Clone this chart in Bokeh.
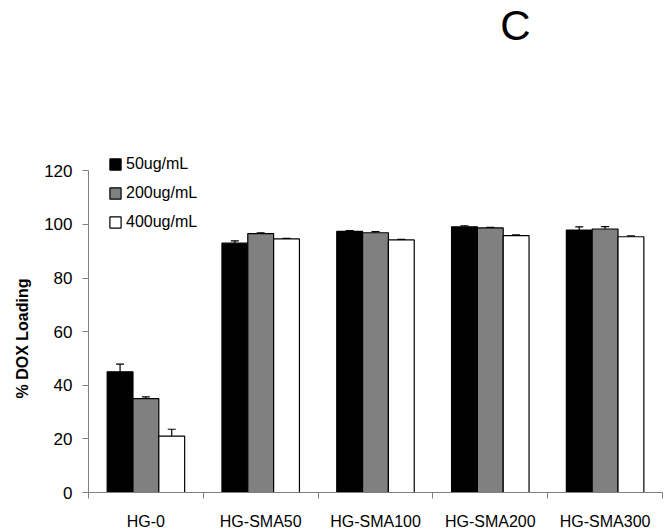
from bokeh.plotting import figure
from bokeh.models import ColumnDataSource, Whisker, TeeHead, FixedTicker, Label, Legend, LegendItem, Range1d, Title
from bokeh.embed import file_html
from bokeh.resources import INLINE

categories = ["HG-0", "HG-SMA50", "HG-SMA100", "HG-SMA200", "HG-SMA300"]
series_names = ["50ug/mL", "200ug/mL", "400ug/mL"]
loading_50 = [45.0, 93.0, 97.4, 99.1, 97.9]
err_50 = [2.9, 0.9, 0.3, 0.4, 1.2]
loading_200 = [35.0, 96.6, 96.9, 98.7, 98.3]
err_200 = [0.7, 0.3, 0.4, 0.2, 0.9]
loading_400 = [21.0, 94.6, 94.2, 95.8, 95.4]
err_400 = [2.6, 0.2, 0.2, 0.3, 0.3]
y_ticks = [0, 20, 40, 60, 80, 100, 120]
y_title = "% DOX Loading"
panel_letter = "C"

FONT = "Liberation Sans"
BAR_W = 0.225
offsets = [-BAR_W, 0.0, BAR_W]
fills = ["#000000", "#808080", "#ffffff"]

# layout: frame spans the full height above the x axis; y axis line is bounded to 0..120
FRAME_H = 494      # px from top of figure to x axis
AXIS_PX = 323      # px spanned by 0..120
y_max = y_ticks[-1]
y_end = y_max * FRAME_H / AXIS_PX

p = figure(width=668, height=532, output_backend="svg", toolbar_location=None, title=None,
           x_range=Range1d(0, len(categories)), y_range=Range1d(0, y_end),
           min_border_left=86, min_border_right=6, min_border_top=0, min_border_bottom=38)
p.outline_line_color = None
p.xgrid.visible = False
p.ygrid.visible = False
p.background_fill_color = "white"
p.border_fill_color = "white"

items = []
for vals, errs, off, fc, name in zip([loading_50, loading_200, loading_400],
                                     [err_50, err_200, err_400], offsets, fills, series_names):
    xs = [i + 0.5 + off for i in range(len(categories))]
    src = ColumnDataSource(dict(x=xs, top=vals, upper=[v + e for v, e in zip(vals, errs)]))
    r = p.vbar(x="x", top="top", bottom=0, width=BAR_W, source=src,
               fill_color=fc, line_color="black", line_width=1.2)
    w = Whisker(base="x", lower="top", upper="upper", source=src, dimension="height",
                line_color="black", line_width=1.2, lower_head=None,
                upper_head=TeeHead(size=8, line_color="black", line_width=1.2))
    p.add_layout(w)
    items.append(LegendItem(label=name, renderers=[r]))

legend = Legend(items=items, location=(20, 261), glyph_width=14, glyph_height=14,
                label_height=14, spacing=11, padding=0, margin=0, label_standoff=4,
                border_line_color=None, background_fill_alpha=0,
                label_text_font=FONT, label_text_font_size="16px", label_text_color="black")
p.add_layout(legend, "center")

# x axis
xa = p.xaxis[0]
xa.ticker = FixedTicker(ticks=[i + 0.5 for i in range(len(categories))],
                        minor_ticks=list(range(len(categories) + 1)))
xa.major_label_overrides = {i + 0.5: c for i, c in enumerate(categories)}
xa.major_tick_out = 0
xa.major_tick_in = 0
xa.minor_tick_out = 6
xa.minor_tick_in = 0
xa.minor_tick_line_color = "#808080"
xa.axis_line_color = "#808080"
xa.major_label_text_font = FONT
xa.major_label_text_font_size = "16px"
xa.major_label_text_color = "black"
xa.major_label_standoff = 14

ya = p.yaxis[0]
ya.ticker = FixedTicker(ticks=y_ticks, minor_ticks=[])
ya.bounds = (0, y_max)
ya.axis_line_color = "#808080"
ya.major_tick_line_color = "#808080"
ya.major_tick_out = 6
ya.major_tick_in = 0
ya.major_label_text_font = FONT
ya.major_label_text_font_size = "17px"
ya.major_label_text_color = "black"
ya.major_label_standoff = 10

# y axis title as a side title, positioned along the 0..120 part of the axis
p.add_layout(Title(text=y_title, align="left", offset=94, text_font=FONT,
                   text_font_size="16px", text_font_style="bold", text_color="black",
                   standoff=22), "left")

p.add_layout(Label(x=427, y=467, x_units="screen", y_units="screen", text=panel_letter,
                   text_font=FONT, text_font_size="42px", text_align="center",
                   text_baseline="alphabetic", text_color="black"))

open("out.html", "w").write(file_html(p, INLINE))
